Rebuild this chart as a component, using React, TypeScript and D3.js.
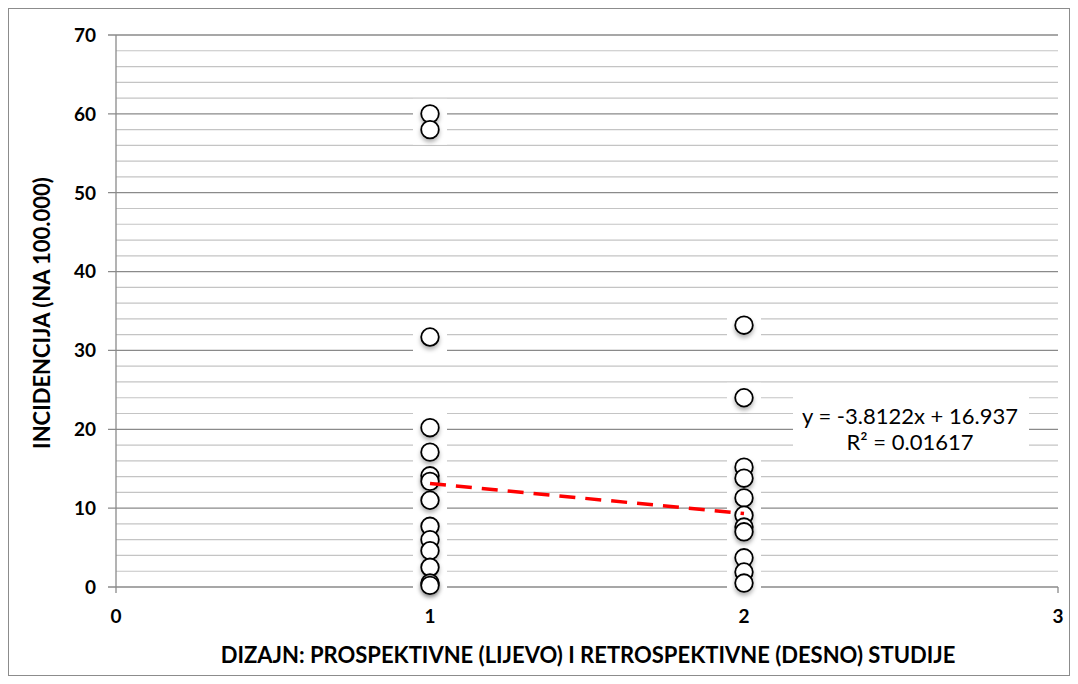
import React from "react";
import * as d3 from "d3";

// ---- data ----
const groupX: number[] = [1, 2];
const prospectiveValues: number[] = [
  60, 58, 31.7, 20.2, 17.1, 14.1, 13.4, 11.0, 7.7, 6.0, 4.6, 2.5, 0.5, 0.2,
];
const retrospectiveValues: number[] = [
  33.2, 24.0, 15.2, 13.8, 11.3, 9.1, 7.6, 7.0, 3.7, 1.9, 0.5,
];
const trendSlope = -3.8122;
const trendIntercept = 16.937;
const trendLabel: string[] = ["y = -3.8122x + 16.937", "R² = 0.01617"];
const xTicks: number[] = [0, 1, 2, 3];
const yMajorTicks: number[] = [0, 10, 20, 30, 40, 50, 60, 70];
const yMinorStep = 2;
const xTitle = "DIZAJN: PROSPEKTIVNE (LIJEVO) I RETROSPEKTIVNE (DESNO) STUDIJE";
const yTitle = "INCIDENCIJA (NA 100.000)";

const W = 1078;
const H = 684;
const plot = { left: 116, right: 1058, top: 35, bottom: 587 };
const FONT = "Lato, 'Open Sans', 'Liberation Sans', sans-serif";

export default function App() {
  const x = d3.scaleLinear().domain([0, 3]).range([plot.left, plot.right]);
  const y = d3.scaleLinear().domain([0, 70]).range([plot.bottom, plot.top]);

  const minorTicks = d3.range(0, 70 + 0.001, yMinorStep).filter((v) => v % 10 !== 0);

  const points: { gx: number; v: number }[] = [
    ...prospectiveValues.map((v) => ({ gx: groupX[0], v })),
    ...retrospectiveValues.map((v) => ({ gx: groupX[1], v })),
  ];

  const trendLine = d3
    .line<number>()
    .x((d) => x(d))
    .y((d) => y(trendSlope * d + trendIntercept));

  const labelCx = 910;
  const labelY = 424;

  return (
    <svg width={W} height={H} style={{ position: "absolute", left: 0, top: 0, background: "#fff" }}>
      <defs>
        <filter id="shadow" x="-50%" y="-50%" width="200%" height="200%">
          <feDropShadow dx="0" dy="3" stdDeviation="2" floodColor="#000" floodOpacity="0.3" />
        </filter>
      </defs>
      <rect x={0} y={0} width={W} height={H} fill="#fff" />
      <rect x={8.5} y={8.5} width={1061} height={667} fill="none" stroke="#8c8c8c" strokeWidth={1} />

      {/* minor gridlines */}
      {minorTicks.map((t) => (
        <line key={"mi" + t} x1={plot.left} x2={plot.right} y1={y(t)} y2={y(t)} stroke="#c4c4c4" strokeWidth={1.2} />
      ))}
      {/* major gridlines */}
      {yMajorTicks.map((t) => (
        <line key={"ma" + t} x1={plot.left - 8} x2={plot.right} y1={y(t)} y2={y(t)} stroke="#8a8a8a" strokeWidth={1.3} />
      ))}
      {/* y axis */}
      <line x1={plot.left} x2={plot.left} y1={plot.top} y2={plot.bottom} stroke="#8a8a8a" strokeWidth={1.3} />
      {/* x ticks */}
      {xTicks.map((t) => (
        <line key={"xt" + t} x1={x(t)} x2={x(t)} y1={plot.bottom} y2={plot.bottom + 6} stroke="#8a8a8a" strokeWidth={1.3} />
      ))}

      {/* y tick labels */}
      {yMajorTicks.map((t) => (
        <text key={"yl" + t} x={96} y={y(t)} dy="0.36em" textAnchor="end" fontFamily={FONT} fontWeight="bold" fontSize={19} fill="#000">
          {t}
        </text>
      ))}
      {/* x tick labels */}
      {xTicks.map((t) => (
        <text key={"xl" + t} x={x(t)} y={623} textAnchor="middle" fontFamily={FONT} fontWeight="bold" fontSize={19} fill="#000">
          {t}
        </text>
      ))}

      {/* point halos */}
      {points.map((p, i) => (
        <rect key={"h" + i} x={x(p.gx) - 17} y={y(p.v) - 15} width={34} height={30} fill="#fff" />
      ))}
      {/* points */}
      {points.map((p, i) => (
        <circle key={"p" + i} cx={x(p.gx)} cy={y(p.v)} r={8.8} fill="#fff" stroke="#000" strokeWidth={1.8} filter="url(#shadow)" />
      ))}

      {/* trend line */}
      <path d={trendLine(groupX) || ""} fill="none" stroke="#ff0000" strokeWidth={3.5} strokeDasharray="16 10" />

      {/* trend label */}
      <rect x={793} y={393} width={236} height={60} fill="#fff" />
      {trendLabel.map((s, i) => (
        <text key={"tl" + i} x={labelCx} y={labelY + i * 26} textAnchor="middle" fontFamily={FONT} fontSize={22} fill="#000">
          {s}
        </text>
      ))}

      {/* axis titles */}
      <text x={588} y={663} textAnchor="middle" fontFamily={FONT} fontWeight="bold" fontSize={22} fill="#000">
        {xTitle}
      </text>
      <text
        transform={`translate(50, ${313}) rotate(-90)`}
        textAnchor="middle"
        fontFamily={FONT}
        fontWeight="bold"
        fontSize={22}
        fill="#000"
      >
        {yTitle}
      </text>
    </svg>
  );
}
